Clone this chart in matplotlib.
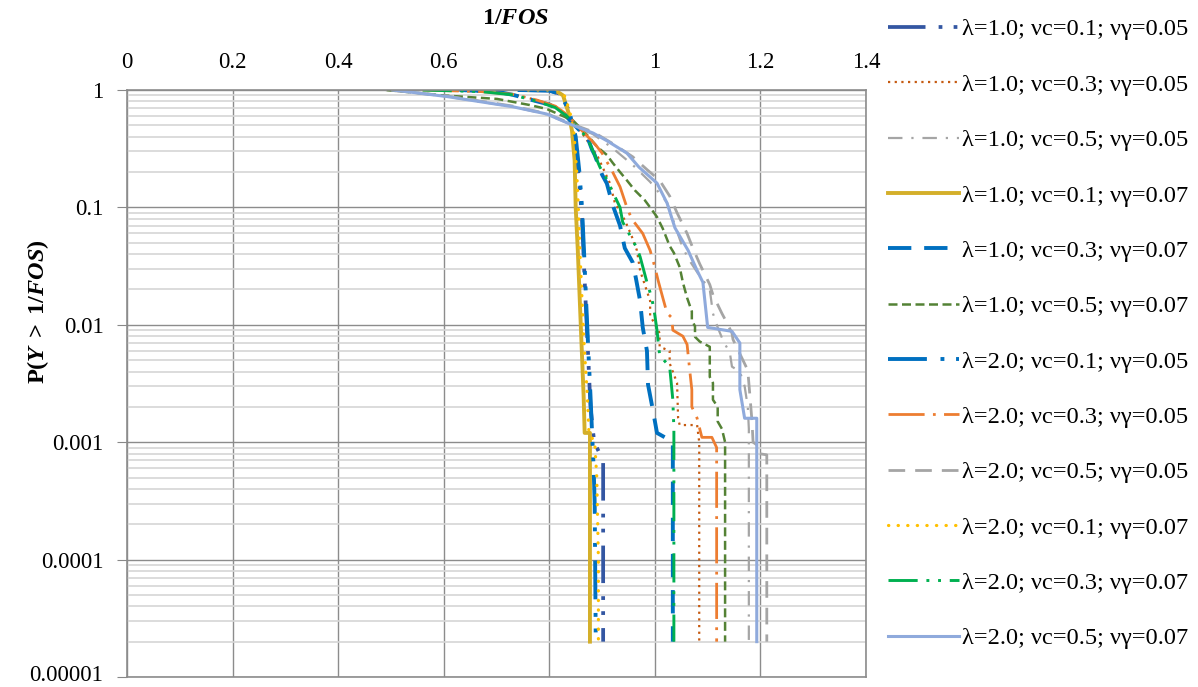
import matplotlib
matplotlib.use("Agg")
import matplotlib.pyplot as plt
from matplotlib.ticker import FixedLocator, FixedFormatter, LogLocator, NullFormatter
from matplotlib.transforms import ScaledTranslation

plt.rcParams['font.family'] = ['Liberation Serif', 'DejaVu Serif']
plt.rcParams['mathtext.fontset'] = 'custom'
plt.rcParams['mathtext.rm'] = 'Liberation Serif:bold'
plt.rcParams['mathtext.it'] = 'Liberation Serif:italic:bold'

# series: 1/FOS values and exceedance probability
labels = [
    "λ=1.0; νc=0.1; νγ=0.05", "λ=1.0; νc=0.3; νγ=0.05", "λ=1.0; νc=0.5; νγ=0.05",
    "λ=1.0; νc=0.1; νγ=0.07", "λ=1.0; νc=0.3; νγ=0.07", "λ=1.0; νc=0.5; νγ=0.07",
    "λ=2.0; νc=0.1; νγ=0.05", "λ=2.0; νc=0.3; νγ=0.05", "λ=2.0; νc=0.5; νγ=0.05",
    "λ=2.0; νc=0.1; νγ=0.07", "λ=2.0; νc=0.3; νγ=0.07", "λ=2.0; νc=0.5; νγ=0.07",
]

x1 = [0.75, 0.80, 0.82, 0.835, 0.848, 0.856, 0.862, 0.866, 0.870, 0.874, 0.878, 0.885, 0.902, 0.902]
p1 = [1.0, 0.99, 0.93, 0.70, 0.42, 0.18, 0.08, 0.03, 0.012, 0.005, 0.002, 0.0010, 0.0007, 2e-5]

x2 = [0.60, 0.67, 0.731, 0.777, 0.811, 0.833, 0.867, 0.892, 0.915, 0.924, 0.943, 0.956, 0.966, 0.972,
      0.991, 0.991, 1.009, 1.009, 1.028, 1.028, 1.042, 1.044, 1.047, 1.080, 1.084, 1.084]
p2 = [1.0, 0.97, 0.92, 0.82, 0.73, 0.62, 0.40, 0.27, 0.16, 0.11, 0.078, 0.057, 0.043, 0.029,
      0.016, 0.012, 0.0085, 0.0065, 0.006, 0.0047, 0.0032, 0.0016, 0.0014, 0.0014, 0.0010, 2e-5]

x3 = [0.49, 0.598, 0.731, 0.795, 0.845, 0.883, 0.920, 0.958, 0.991, 1.023, 1.053, 1.066, 1.085, 1.104,
      1.110, 1.119, 1.130, 1.142, 1.146, 1.161, 1.170, 1.176, 1.178, 1.178]
p3 = [1.0, 0.89, 0.72, 0.62, 0.50, 0.42, 0.32, 0.23, 0.165, 0.11, 0.045, 0.035, 0.026, 0.02,
      0.0125, 0.0095, 0.0072, 0.0058, 0.0044, 0.004, 0.0030, 0.0020, 0.0013, 2e-5]

x4 = [0.76, 0.81, 0.826, 0.836, 0.843, 0.848, 0.850, 0.854, 0.860, 0.865, 0.867, 0.877, 0.877]
p4 = [1.0, 1.0, 0.90, 0.65, 0.45, 0.25, 0.10, 0.043, 0.009, 0.0025, 0.0012, 0.0012, 2e-5]

x5 = [0.63, 0.70, 0.731, 0.777, 0.801, 0.826, 0.833, 0.858, 0.871, 0.881, 0.886, 0.900, 0.909, 0.920,
      0.934, 0.943, 0.958, 0.964, 0.972, 0.977, 0.985, 0.987, 0.996, 1.004, 1.019, 1.034, 1.034]
p5 = [1.0, 0.97, 0.91, 0.80, 0.75, 0.64, 0.59, 0.45, 0.41, 0.31, 0.28, 0.19, 0.16, 0.105,
      0.07, 0.045, 0.034, 0.025, 0.016, 0.0095, 0.006, 0.0031, 0.0019, 0.0012, 0.0011, 0.0010, 2e-5]

x6 = [0.492, 0.598, 0.701, 0.763, 0.795, 0.845, 0.858, 0.877, 0.890, 0.909, 0.920, 0.934, 0.947, 0.962,
      0.981, 0.991, 1.004, 1.015, 1.028, 1.036, 1.047, 1.053, 1.061, 1.070, 1.070, 1.076, 1.076, 1.085,
      1.104, 1.104, 1.110, 1.110, 1.119, 1.119, 1.127, 1.133, 1.133]
p6 = [1.0, 0.90, 0.84, 0.745, 0.69, 0.55, 0.48, 0.39, 0.33, 0.28, 0.24, 0.20, 0.17, 0.14,
      0.115, 0.10, 0.083, 0.066, 0.047, 0.041, 0.031, 0.023, 0.017, 0.013, 0.011, 0.0097, 0.0079, 0.0072,
      0.0065, 0.0036, 0.0032, 0.0023, 0.002, 0.0015, 0.0013, 0.001, 2e-5]

x7 = [0.74, 0.80, 0.822, 0.838, 0.850, 0.857, 0.862, 0.866, 0.870, 0.874, 0.878, 0.881, 0.884, 0.886, 0.888]
p7 = [1.0, 0.99, 0.92, 0.65, 0.40, 0.20, 0.10, 0.04, 0.015, 0.006, 0.0025, 0.0012, 0.0006, 0.0003, 2e-5]

x8 = [0.56, 0.67, 0.731, 0.777, 0.811, 0.833, 0.858, 0.888, 0.900, 0.920, 0.934, 0.947, 0.956, 0.977,
      0.991, 1.000, 1.006, 1.015, 1.023, 1.032, 1.034, 1.053, 1.061, 1.066, 1.070, 1.070, 1.080, 1.089,
      1.108, 1.117, 1.117]
p8 = [1.0, 0.97, 0.92, 0.82, 0.73, 0.62, 0.47, 0.34, 0.29, 0.20, 0.15, 0.10, 0.08, 0.06,
      0.043, 0.031, 0.024, 0.017, 0.0126, 0.0115, 0.009, 0.008, 0.0068, 0.0041, 0.0028, 0.002, 0.0016, 0.0011,
      0.0011, 0.0009, 2e-5]

x9 = [0.50, 0.606, 0.731, 0.795, 0.845, 0.883, 0.920, 0.958, 0.985, 1.009, 1.028, 1.042, 1.061, 1.072,
      1.085, 1.104, 1.110, 1.127, 1.136, 1.146, 1.148, 1.176, 1.180, 1.184, 1.186, 1.193, 1.197, 1.212, 1.212]
p9 = [1.0, 0.89, 0.73, 0.63, 0.51, 0.44, 0.35, 0.27, 0.21, 0.17, 0.125, 0.09, 0.06, 0.045,
      0.033, 0.022, 0.018, 0.0125, 0.0105, 0.0085, 0.0075, 0.0041, 0.0025, 0.0015, 0.0010, 0.00095, 0.0008, 0.00078, 2e-5]

x10 = [0.76, 0.815, 0.83, 0.840, 0.847, 0.852, 0.855, 0.858, 0.865, 0.872, 0.875, 0.886, 0.890, 0.893, 0.893]
p10 = [1.0, 1.0, 0.88, 0.62, 0.42, 0.20, 0.10, 0.043, 0.008, 0.0025, 0.0012, 0.0010, 0.0005, 0.0001, 2e-5]

x11 = [0.56, 0.67, 0.731, 0.777, 0.811, 0.833, 0.858, 0.871, 0.896, 0.907, 0.934, 0.939, 0.966, 0.972,
       0.985, 0.994, 1.000, 1.004, 1.009, 1.028, 1.034, 1.036, 1.036]
p11 = [1.0, 0.97, 0.91, 0.80, 0.71, 0.60, 0.45, 0.40, 0.22, 0.18, 0.10, 0.075, 0.045, 0.038,
       0.023, 0.017, 0.012, 0.009, 0.0055, 0.0044, 0.0023, 0.0013, 2e-5]

x12 = [0.504, 0.606, 0.731, 0.795, 0.845, 0.883, 0.909, 0.947, 0.970, 1.004, 1.023, 1.038, 1.063, 1.080,
       1.091, 1.100, 1.146, 1.161, 1.161, 1.170, 1.193, 1.193]
p12 = [1.0, 0.88, 0.72, 0.625, 0.50, 0.43, 0.37, 0.29, 0.22, 0.161, 0.109, 0.067, 0.043, 0.029,
       0.023, 0.0095, 0.0088, 0.007, 0.0028, 0.0016, 0.0016, 2e-5]

xs = [x1, x2, x3, x4, x5, x6, x7, x8, x9, x10, x11, x12]
ps = [p1, p2, p3, p4, p5, p6, p7, p8, p9, p10, p11, p12]

colors = ['#3356A2', '#C55A11', '#A5A5A5', '#D4AF2A', '#0070C0', '#548235',
          '#0070C0', '#ED7D31', '#A5A5A5', '#FFC000', '#00B050', '#8FAADC']
widths = [2.7, 1.6, 1.6, 2.8, 2.8, 1.8, 2.8, 2.0, 2.0, 2.3, 2.1, 2.2]
styles = [(0, (10, 3.5, 1, 3, 1, 3.5)), (0, (1, 2)), (0, (6.5, 4, 1, 4)), '-',
          (0, (6, 3.3)), (0, (3.6, 1.8)), (0, (10, 3.5, 1, 3, 1, 3.5)), (0, (13, 3, 1, 3)),
          (0, (6, 3.6)), (0, (0.1, 2.9)), (0, (10, 3, 1, 3, 1, 3)), '-']
caps = ['butt', 'butt', 'butt', 'butt', 'butt', 'butt', 'butt', 'butt', 'butt', 'round', 'butt', 'butt']

fig = plt.figure(figsize=(11.98, 6.87), dpi=100)
ax = fig.add_axes([0.1060, 0.01456, 0.6169, 0.8544])

for x, p, c, w, s, cs, lab in zip(xs, ps, colors, widths, styles, caps, labels):
    ax.plot(x, p, color=c, lw=w, ls=s, dash_capstyle=cs, label=lab)

ax.set_yscale('log')
ax.set_xlim(0, 1.4)
ax.set_ylim(1e-5, 1)

xticks = [0, 0.2, 0.4, 0.6, 0.8, 1.0, 1.2, 1.4]
xticklabels = ['0', '0.2', '0.4', '0.6', '0.8', '1', '1.2', '1.4']
yticks = [1e-5, 1e-4, 1e-3, 1e-2, 1e-1, 1]
yticklabels = ['0.00001', '0.0001', '0.001', '0.01', '0.1', '1']

ax.xaxis.tick_top()
ax.xaxis.set_major_locator(FixedLocator(xticks))
ax.xaxis.set_major_formatter(FixedFormatter(xticklabels))
ax.yaxis.set_major_locator(FixedLocator(yticks))
ax.yaxis.set_major_formatter(FixedFormatter(yticklabels))
ax.yaxis.set_minor_locator(LogLocator(base=10, subs=range(2, 10)))
ax.yaxis.set_minor_formatter(NullFormatter())
ax.tick_params(axis='x', length=0, pad=12, labelsize=16.5)
ax.tick_params(axis='y', which='major', length=7, color='#888888', pad=10, labelsize=16.5)
ax.tick_params(axis='y', which='minor', length=0)

# lift the lowest y label a little so it stays inside the figure
low = ax.get_yticklabels()[0]
low.set_transform(low.get_transform() + ScaledTranslation(0, 3 / 72, fig.dpi_scale_trans))

ax.grid(True, which='major', color='#8C8C8C', lw=1.0)
ax.grid(True, which='minor', axis='y', color='#D6D6D6', lw=1.2)
ax.set_axisbelow(True)
for sp in ax.spines.values():
    sp.set_color('#8C8C8C')
    sp.set_linewidth(1.2)

fig.text(0.430, 0.973, r'$\mathrm{1/}FOS$', ha='center', va='center', fontsize=17.5)
fig.text(0.032, 0.546, r'$\mathrm{P(}Y\;\mathrm{>}\;\mathrm{1/}FOS\mathrm{)}$', ha='center', va='center',
         rotation=90, fontsize=17.5)

fig.legend(loc='center left', bbox_to_anchor=(0.741, 0.514), frameon=False, fontsize=17.6,
           handlelength=2.93, handletextpad=0.1, labelspacing=1.36, borderpad=0, borderaxespad=0)

fig.savefig('out.png', dpi=100)
